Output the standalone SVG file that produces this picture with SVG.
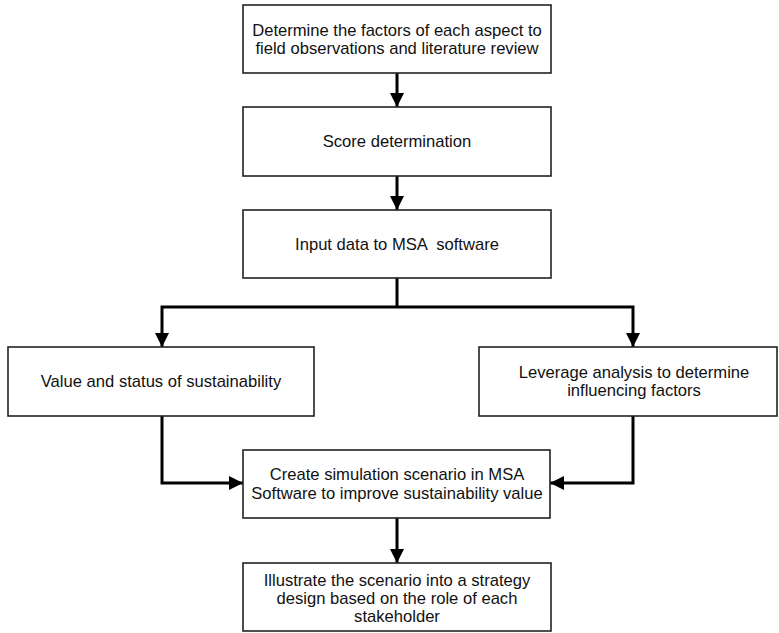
<svg xmlns="http://www.w3.org/2000/svg" width="779" height="633" viewBox="0 0 779 633">
<style>
.box{fill:#fff;stroke:#222;stroke-width:1.6}
.t{font-family:"Liberation Sans",Arial,sans-serif;font-size:16.6px;fill:#111;text-anchor:middle}
.c{fill:none;stroke:#000;stroke-width:3}
</style>
<defs>
<marker id="ah" markerWidth="14" markerHeight="14" refX="14" refY="7" orient="auto" markerUnits="userSpaceOnUse" viewBox="0 0 14 14">
<path d="M0,0 L14,7 L0,14 Z" fill="#000"/>
</marker>
</defs>
<rect width="779" height="633" fill="#fff"/>
<g id="connectors">
<path class="c" d="M397,73 V107" marker-end="url(#ah)"/>
<path class="c" d="M397,176 V210" marker-end="url(#ah)"/>
<path class="c" d="M397,278 V307"/>
<path class="c" d="M397,307 H162 V347" marker-end="url(#ah)"/>
<path class="c" d="M397,307 H633 V347" marker-end="url(#ah)"/>
<path class="c" d="M162,416 V483 H243" marker-end="url(#ah)"/>
<path class="c" d="M633,416 V483 H550" marker-end="url(#ah)"/>
<path class="c" d="M397,518 V563" marker-end="url(#ah)"/>
</g>
<g id="n1"><rect class="box" x="243" y="5" width="308" height="68"/>
<text class="t" x="397" y="36">Determine the factors of each aspect to</text>
<text class="t" x="397" y="54">field observations and literature review</text></g>
<g id="n2"><rect class="box" x="243" y="107" width="308" height="69"/>
<text class="t" x="397" y="147">Score determination</text></g>
<g id="n3"><rect class="box" x="243" y="210" width="308" height="68"/>
<text class="t" x="397" y="250">Input data to MSA &#160;software</text></g>
<g id="n4"><rect class="box" x="8" y="347" width="306" height="69"/>
<text class="t" x="161" y="387">Value and status of sustainability</text></g>
<g id="n5"><rect class="box" x="479" y="347" width="298" height="69"/>
<text class="t" x="634" y="378">Leverage analysis to determine</text>
<text class="t" x="634" y="396">influencing factors</text></g>
<g id="n6"><rect class="box" x="243" y="450" width="307" height="68"/>
<text class="t" x="397" y="480">Create simulation scenario in MSA</text>
<text class="t" x="397" y="499">Software to improve sustainability value</text></g>
<g id="n7"><rect class="box" x="243" y="563" width="308" height="68"/>
<text class="t" x="397" y="586">Illustrate the scenario into a strategy</text>
<text class="t" x="397" y="604">design based on the role of each</text>
<text class="t" x="397" y="622">stakeholder</text></g>
</svg>
